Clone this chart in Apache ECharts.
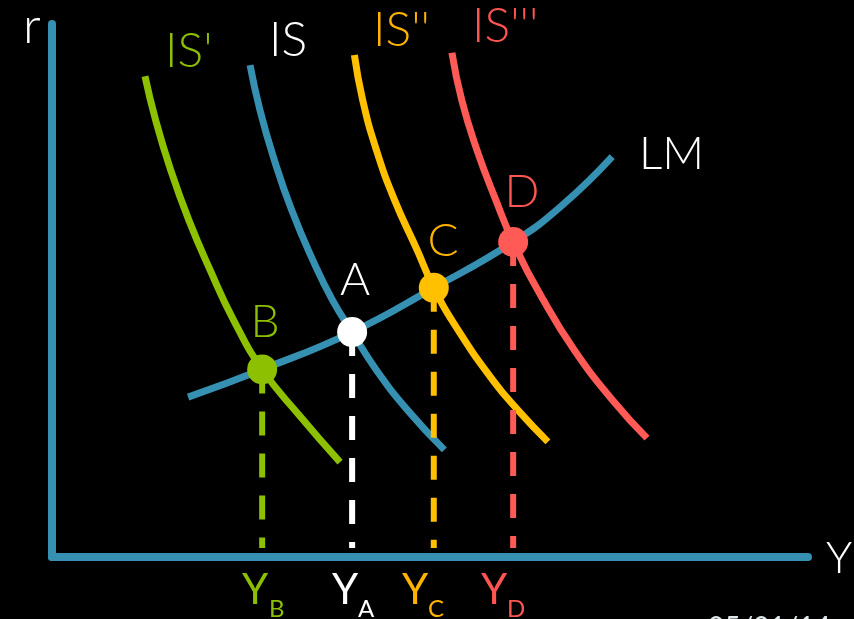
<!DOCTYPE html>
<html>
<head>
<meta charset="utf-8">
<script src="https://cdn.jsdelivr.net/npm/echarts@6/dist/echarts.min.js"></script>
<style>
  html, body { margin: 0; padding: 0; background: #000; }
  #chart { width: 854px; height: 619px; }
</style>
</head>
<body>
<div id="chart"></div>
<script>
// IS-LM diagram: four IS curves shifting right, one LM curve.
// Axis units: output Y on x (0-100), interest rate r on y (0-100).
const isPrime  = [[12.3, 90.2], [13.7, 82.0], [15.7, 72.6], [18.1, 63.2], [20.9, 53.9], [24.0, 44.5], [27.8, 35.2], [32.7, 26.6], [38.1, 17.8]];
const isBase   = [[26.2, 92.3], [27.5, 83.9], [29.4, 74.5], [31.7, 65.1], [34.5, 55.7], [37.1, 48.2], [39.7, 42.2], [42.9, 35.1], [47.0, 27.6], [51.9, 20.1]];
const isDouble = [[40.0, 94.2], [41.1, 85.7], [42.9, 76.4], [45.3, 67.0], [48.3, 57.6], [50.5, 50.5], [53.7, 42.6], [58.3, 33.2], [61.6, 27.6], [65.6, 21.6]];
const isTriple = [[52.9, 94.6], [54.2, 85.7], [56.2, 76.4], [58.7, 67.0], [61.0, 59.1], [65.0, 48.2], [69.1, 38.8], [74.1, 29.5], [78.7, 22.3]];
const lmCurve  = [[18.0, 30.0], [27.8, 35.2], [39.7, 42.2], [50.5, 50.5], [61.0, 59.1], [67.5, 66.0], [74.1, 75.1]];

// Equilibria where each IS meets LM
const eqNames  = ['B', 'A', 'C', 'D'];
const eqY      = [27.8, 39.7, 50.5, 61.0];
const eqR      = [35.2, 42.2, 50.5, 59.1];
const dropFloor = 1.7;

const TEAL = '#3590b2', GREEN = '#8dc000', YELLOW = '#ffc000', RED = '#ff5a55', WHITE = '#ffffff';
const eqColors = [GREEN, WHITE, YELLOW, RED];
const labelColors = ['#8cbf00', '#ffffff', '#ffb300', '#ff5550'];

const FONT = 'Lato';

const curve = (name, data, color) => ({
  name, type: 'line', data, smooth: 0.5, symbol: 'none', z: 2,
  lineStyle: { color, width: 7, cap: 'butt' }
});

const drops = eqNames.map((n, i) => ({
  name: 'drop' + n, type: 'line', symbol: 'none', z: 3,
  data: [[eqY[i], eqR[i]], [eqY[i], dropFloor]],
  lineStyle: { color: eqColors[i], width: 6, type: [24, 18], cap: 'butt' }
}));

const txt = (text, x, y, size, color, align, weight) => ({
  type: 'text', z: 10,
  style: {
    text, x, y, fill: color,
    fontFamily: FONT, fontSize: size, fontWeight: weight || 300,
    textAlign: align || 'left', textVerticalAlign: 'middle',
    align: align || 'left', verticalAlign: 'middle'
  }
});

const chart = echarts.init(document.getElementById('chart'), null, { renderer: 'canvas' });
chart.setOption({
  backgroundColor: '#000000',
  animation: false,
  grid: { left: 52, right: 46, top: 24, bottom: 62 },
  xAxis: {
    type: 'value', min: 0, max: 100,
    axisLine: { show: true, onZero: false, lineStyle: { color: TEAL, width: 8 } },
    axisTick: { show: false }, axisLabel: { show: false }, splitLine: { show: false }
  },
  yAxis: {
    type: 'value', min: 0, max: 100,
    axisLine: { show: true, onZero: false, lineStyle: { color: TEAL, width: 8 } },
    axisTick: { show: false }, axisLabel: { show: false }, splitLine: { show: false }
  },
  series: [
    curve("IS'", isPrime, GREEN),
    curve('IS', isBase, TEAL),
    curve("IS''", isDouble, YELLOW),
    curve("IS'''", isTriple, RED),
    curve('LM', lmCurve, TEAL),
    ...drops,
    {
      name: 'equilibria', type: 'scatter', symbol: 'circle', symbolSize: 30, z: 5,
      itemStyle: { opacity: 1 },
      emphasis: { disabled: true },
      data: eqNames.map((n, i) => ({
        name: n, value: [eqY[i], eqR[i]],
        itemStyle: { color: eqColors[i], opacity: 1 }
      }))
    }
  ],
  graphic: [
    txt('r', 23, 27, 50, WHITE),
    txt("IS'", 165, 52, 48, labelColors[0]),
    txt('IS', 269, 41, 48, WHITE),
    txt("IS''", 373, 31, 48, labelColors[2]),
    txt("IS'''", 472, 27, 48, labelColors[3]),
    txt('LM', 639, 154, 46, WHITE),
    txt('B', 265, 322, 46, labelColors[0], 'center'),
    txt('A', 355, 280, 46, WHITE, 'center'),
    txt('C', 443, 241, 46, labelColors[2], 'center'),
    txt('D', 522, 192, 46, labelColors[3], 'center'),
    txt('Y', 826, 559, 44, WHITE),
    txt('Y', 242, 590, 42, labelColors[0], 'left', 400),
    txt('B', 269, 609, 24, labelColors[0], 'left', 400),
    txt('Y', 332, 590, 42, WHITE, 'left', 400),
    txt('A', 358, 609, 24, WHITE, 'left', 400),
    txt('Y', 402, 590, 42, labelColors[2], 'left', 400),
    txt('C', 428, 609, 24, labelColors[2], 'left', 400),
    txt('Y', 481, 590, 42, labelColors[3], 'left', 400),
    txt('D', 507, 609, 24, labelColors[3], 'left', 400),
    txt('05/01/14', 708, 628, 28, '#dfe6ea', 'left', 400)
  ]
});
</script>
</body>
</html>
